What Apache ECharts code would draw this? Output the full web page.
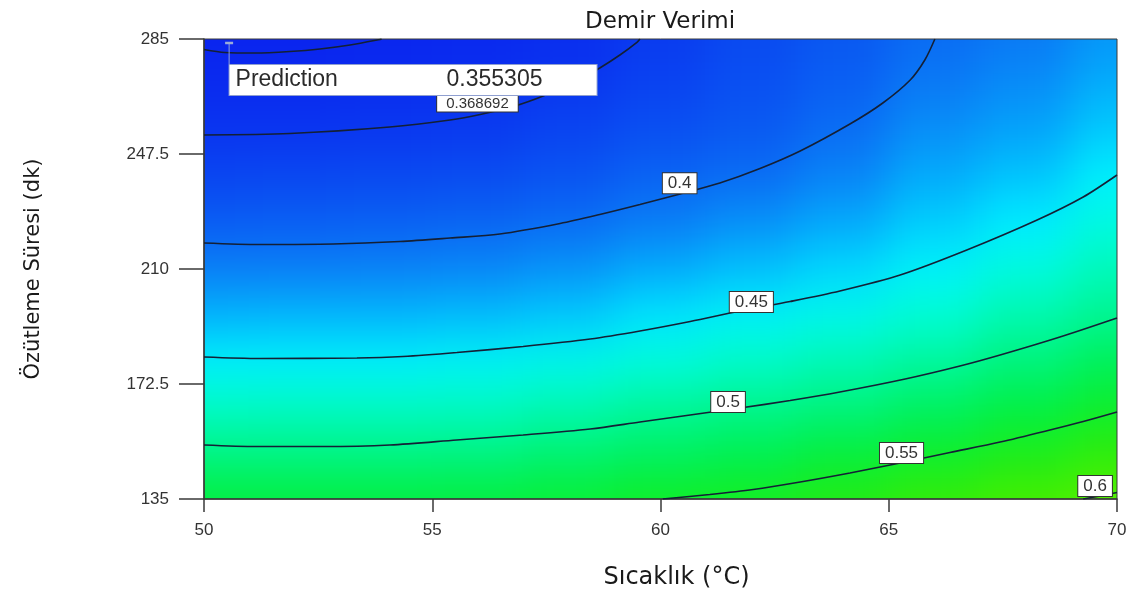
<!DOCTYPE html>
<html>
<head>
<meta charset="utf-8">
<script src="https://cdn.jsdelivr.net/npm/echarts@6/dist/echarts.min.js"></script>
<style>
html,body{margin:0;padding:0;background:#fff;}
#wrap{position:relative;width:1135px;height:598px;overflow:hidden;}
#clip{position:absolute;overflow:hidden;}
#bg{position:absolute;filter:blur(22px);}
#main{position:absolute;left:0;top:0;width:1135px;height:598px;}
</style>
</head>
<body>
<div id="wrap"><div id="clip"><div id="bg"></div></div><div id="main"></div></div>
<script>
// ---------------- DATA ----------------
const chartTitle = 'Demir Verimi';
const xName = 'Sıcaklık (°C)';
const yName = 'Özütleme Süresi (dk)';
const xTicks = [50, 55, 60, 65, 70];
const yTicks = [135, 172.5, 210, 247.5, 285];

// estimated response values at grid nodes (rows: y from 135 to 285, cols: x from 50 to 70)
const xNodes = [50, 52, 54, 56, 58, 60, 62, 64, 66, 68, 70];
const yNodes = [135, 150, 165, 180, 195, 210, 225, 240, 255, 270, 285];
const heatValues = [
  [0.536, 0.536, 0.536, 0.537, 0.542, 0.550, 0.555, 0.566, 0.579, 0.591, 0.605],
  [0.505, 0.505, 0.505, 0.506, 0.513, 0.520, 0.527, 0.537, 0.547, 0.560, 0.575],
  [0.477, 0.478, 0.478, 0.479, 0.485, 0.494, 0.501, 0.508, 0.520, 0.533, 0.547],
  [0.452, 0.452, 0.452, 0.455, 0.460, 0.468, 0.476, 0.484, 0.493, 0.508, 0.523],
  [0.430, 0.431, 0.431, 0.433, 0.437, 0.446, 0.454, 0.461, 0.472, 0.486, 0.499],
  [0.410, 0.410, 0.411, 0.413, 0.418, 0.427, 0.434, 0.442, 0.453, 0.467, 0.482],
  [0.393, 0.394, 0.395, 0.397, 0.401, 0.409, 0.417, 0.426, 0.439, 0.449, 0.466],
  [0.379, 0.380, 0.381, 0.383, 0.388, 0.396, 0.401, 0.412, 0.427, 0.436, 0.451],
  [0.368, 0.368, 0.370, 0.372, 0.378, 0.385, 0.391, 0.401, 0.416, 0.424, 0.438],
  [0.361, 0.361, 0.362, 0.364, 0.369, 0.377, 0.385, 0.394, 0.407, 0.415, 0.428],
  [0.356, 0.356, 0.357, 0.359, 0.363, 0.372, 0.381, 0.390, 0.400, 0.407, 0.419]
];

// contour lines, [x, y] points
const contourTop = [[50, 281.58], [50.46, 280.6], [51.12, 280.43], [51.88, 280.92], [52.54, 281.74], [53.2, 283.04], [53.86, 284.84], [53.89, 285]];
const contour0368 = [[50, 253.7], [51.88, 254.18], [54.07, 256.3], [55.39, 258.59], [56.05, 260.38], [56.81, 263.15], [57.43, 266.41], [58.13, 270.98], [58.67, 275.54], [59.11, 279.78], [59.49, 284.02], [59.55, 285]];
const contour040 = [[50, 218.48], [51.23, 217.99], [52.83, 218.15], [54.29, 218.97], [55.39, 220.11], [56.48, 221.41], [57.8, 224.84], [58.67, 227.77], [59.55, 231.03], [60.43, 234.46], [61.3, 238.04], [62.18, 242.77], [63.06, 248.48], [64.15, 257.28], [64.87, 264.13], [65.47, 271.63], [65.79, 278.15], [66.01, 285]];
const contour045 = [[50, 181.3], [51.23, 180.82], [53.35, 180.98], [54.36, 181.47], [55.54, 182.77], [56.99, 184.73], [58.46, 187.17], [59.55, 189.78], [60.65, 192.88], [61.74, 196.3], [62.84, 199.4], [63.93, 202.83], [65.25, 208.04], [66.71, 216.2], [68.25, 225.98], [69.26, 233.48], [70, 240.65]];
const contour050 = [[50, 152.61], [51.16, 152.12], [52.61, 152.12], [54.07, 152.61], [55.54, 154.24], [56.99, 155.87], [58.46, 157.83], [59.55, 160.11], [60.65, 162.39], [61.74, 164.67], [62.84, 167.12], [63.93, 169.89], [65.36, 174.13], [66.56, 178.37], [67.44, 181.96], [68.75, 187.83], [70, 194.03]];
const contour055 = [[60.05, 135], [61.08, 136.47], [62.03, 138.1], [63.06, 140.54], [64.15, 143.48], [65.25, 146.74], [66.34, 150.16], [67.44, 153.59], [68.53, 157.5], [69.26, 160.27], [70, 163.37]];
const contour060 = [[69.26, 135], [69.63, 136], [70, 137.1]];

// contour label positions [x, y, text]
const contourLabels = [
  [55.99, 263.97, '0.368692'],
  [60.42, 238.0, '0.4'],
  [61.99, 199.2, '0.45'],
  [61.48, 166.6, '0.5'],
  [65.28, 150.0, '0.55'],
  [69.52, 139.2, '0.6']
];

// prediction flag
const flagPoint = [50.55, 283.7];
const flagLabel = 'Prediction';
const flagValue = '0.355305';

// ---------------- LAYOUT / STYLE ----------------
const W = 1135, H = 598, PAD = 150;
const G = { left: 204, top: 39, right: 18, bottom: 99 };
const plotW = W - G.left - G.right, plotH = H - G.top - G.bottom;
const colorStops = ['#0a1cee', '#0a38f0', '#0a58f2', '#0a80f6', '#02b4fc', '#00f0ff', '#00fcd8',
                    '#00f8a4', '#00f278', '#00f04a', '#10ee28', '#28ec10', '#44ee00', '#5cf000'];

const clipEl = document.getElementById('clip');
clipEl.style.left = G.left + 'px';
clipEl.style.top = G.top + 'px';
clipEl.style.width = plotW + 'px';
clipEl.style.height = plotH + 'px';
const bgEl = document.getElementById('bg');
bgEl.style.left = -(G.left + PAD) + 'px';
bgEl.style.top = -(G.top + PAD) + 'px';
bgEl.style.width = (W + 2 * PAD) + 'px';
bgEl.style.height = (H + 2 * PAD) + 'px';

// ---------------- BACKGROUND (colour field) ----------------
const heatData = [];
yNodes.forEach((y, j) => xNodes.forEach((x, i) => heatData.push([x, y, heatValues[j][i]])));
const xStep = xNodes[1] - xNodes[0], yStep = yNodes[1] - yNodes[0];
const xMin = xNodes[0], xMax = xNodes[xNodes.length - 1];
const yMin = yNodes[0], yMax = yNodes[yNodes.length - 1];

const bg = echarts.init(bgEl, null, { renderer: 'canvas' });
bg.setOption({
  animation: false,
  grid: { left: G.left + PAD, top: G.top + PAD, right: G.right + PAD, bottom: G.bottom + PAD },
  xAxis: { type: 'value', min: 50, max: 70, show: false },
  yAxis: { type: 'value', min: 135, max: 285, show: false },
  visualMap: { type: 'continuous', show: false, min: 0.35, max: 0.61, dimension: 2, seriesIndex: 0,
               inRange: { color: colorStops } },
  series: [{
    type: 'custom',
    clip: false,
    data: heatData,
    renderItem: function (params, api) {
      const x = api.value(0), y = api.value(1);
      const c = api.coord([x, y]);
      const s = api.size([xStep, yStep]);
      let x0 = c[0] - s[0] / 2 - 1, x1 = c[0] + s[0] / 2 + 1;
      let y0 = c[1] - s[1] / 2 - 1, y1 = c[1] + s[1] / 2 + 1;
      const ext = PAD;
      if (x === xMin) x0 -= ext;
      if (x === xMax) x1 += ext;
      if (y === yMin) y1 += ext;
      if (y === yMax) y0 -= ext;
      return { type: 'rect', shape: { x: x0, y: y0, width: x1 - x0, height: y1 - y0 },
               style: { fill: api.visual('color') } };
    }
  }]
});

// ---------------- MAIN CHART ----------------
const axisColor = '#3a3a3a';
function contourSeries(data) {
  return { type: 'line', data: data, showSymbol: false, smooth: 0.3, silent: true, z: 3,
           lineStyle: { color: '#142036', width: 1.6 } };
}
const main = echarts.init(document.getElementById('main'), null, { renderer: 'canvas' });
main.setOption({
  animation: false,
  title: { text: chartTitle, left: 585, top: 11, padding: 0,
           textStyle: { fontSize: 23, fontWeight: 'normal', fontFamily: 'DejaVu Sans', color: '#1a1a1a' } },
  grid: { left: G.left, top: G.top, right: G.right, bottom: G.bottom, show: true,
          borderColor: axisColor, borderWidth: 1, backgroundColor: 'transparent' },
  xAxis: {
    type: 'value', min: 50, max: 70,
    name: xName, nameLocation: 'middle', nameGap: 67,
    nameTextStyle: { fontSize: 24, fontFamily: 'DejaVu Sans', color: '#1a1a1a', padding: [0, 0, 0, 32] },
    axisLine: { show: true, onZero: false, lineStyle: { color: axisColor, width: 1.5 } },
    axisTick: { show: true, customValues: xTicks, length: 13, lineStyle: { color: axisColor, width: 1.5 } },
    axisLabel: { customValues: xTicks, margin: 23, fontSize: 17, fontFamily: 'Liberation Sans', color: '#333',
                 showMinLabel: true, showMaxLabel: true },
    splitLine: { show: false }
  },
  yAxis: {
    type: 'value', min: 135, max: 285,
    name: yName, nameLocation: 'middle', nameGap: 160, nameRotate: 90,
    nameTextStyle: { fontSize: 21, fontFamily: 'DejaVu Sans', color: '#1a1a1a' },
    axisLine: { show: true, onZero: false, lineStyle: { color: axisColor, width: 1.5 } },
    axisTick: { show: true, customValues: yTicks, length: 25, lineStyle: { color: axisColor, width: 1.5 } },
    axisLabel: { customValues: yTicks, margin: 35, fontSize: 17, fontFamily: 'Liberation Sans', color: '#333',
                 showMinLabel: true, showMaxLabel: true },
    splitLine: { show: false }
  },
  series: [
    contourSeries(contourTop),
    contourSeries(contour0368),
    contourSeries(contour040),
    contourSeries(contour045),
    contourSeries(contour050),
    contourSeries(contour055),
    contourSeries(contour060),
    {
      type: 'scatter', z: 5, silent: true, symbolSize: 1,
      itemStyle: { color: 'rgba(0,0,0,0)', opacity: 1 },
      data: contourLabels.map(d => d[2].length > 4
        ? { value: [d[0], d[1]], label: { fontSize: 15, padding: [0, 9], lineHeight: 16 } }
        : { value: [d[0], d[1]] }),
      label: {
        show: true, position: 'inside',
        formatter: p => contourLabels[p.dataIndex][2],
        fontSize: 17, fontFamily: 'Liberation Sans', color: '#333', lineHeight: 18,
        backgroundColor: '#fff', borderColor: '#333', borderWidth: 1, padding: [1, 5]
      }
    },
    {
      type: 'scatter', z: 6, silent: true,
      data: [flagPoint],
      symbol: 'path://M0,0 L8,0 M4,0 L4,21',
      symbolSize: [8, 21], symbolOffset: [0, '50%'],
      itemStyle: { color: 'none', borderColor: '#9aabd8', borderWidth: 1.5, opacity: 1 },
      label: {
        show: true, position: [6, 26],
        formatter: '{a|' + flagLabel + '}{b|' + flagValue + '}',
        backgroundColor: '#fff', borderColor: '#8f9fd0', borderWidth: 1,
        padding: [2, 6, 2, 6], width: 355, height: 26,
        rich: {
          a: { width: 211, fontSize: 23, fontFamily: 'Liberation Sans', color: '#2a2a2a', lineHeight: 26 },
          b: { fontSize: 23, fontFamily: 'Liberation Sans', color: '#2a2a2a', lineHeight: 26 }
        }
      }
    }
  ]
});
</script>
</body>
</html>
